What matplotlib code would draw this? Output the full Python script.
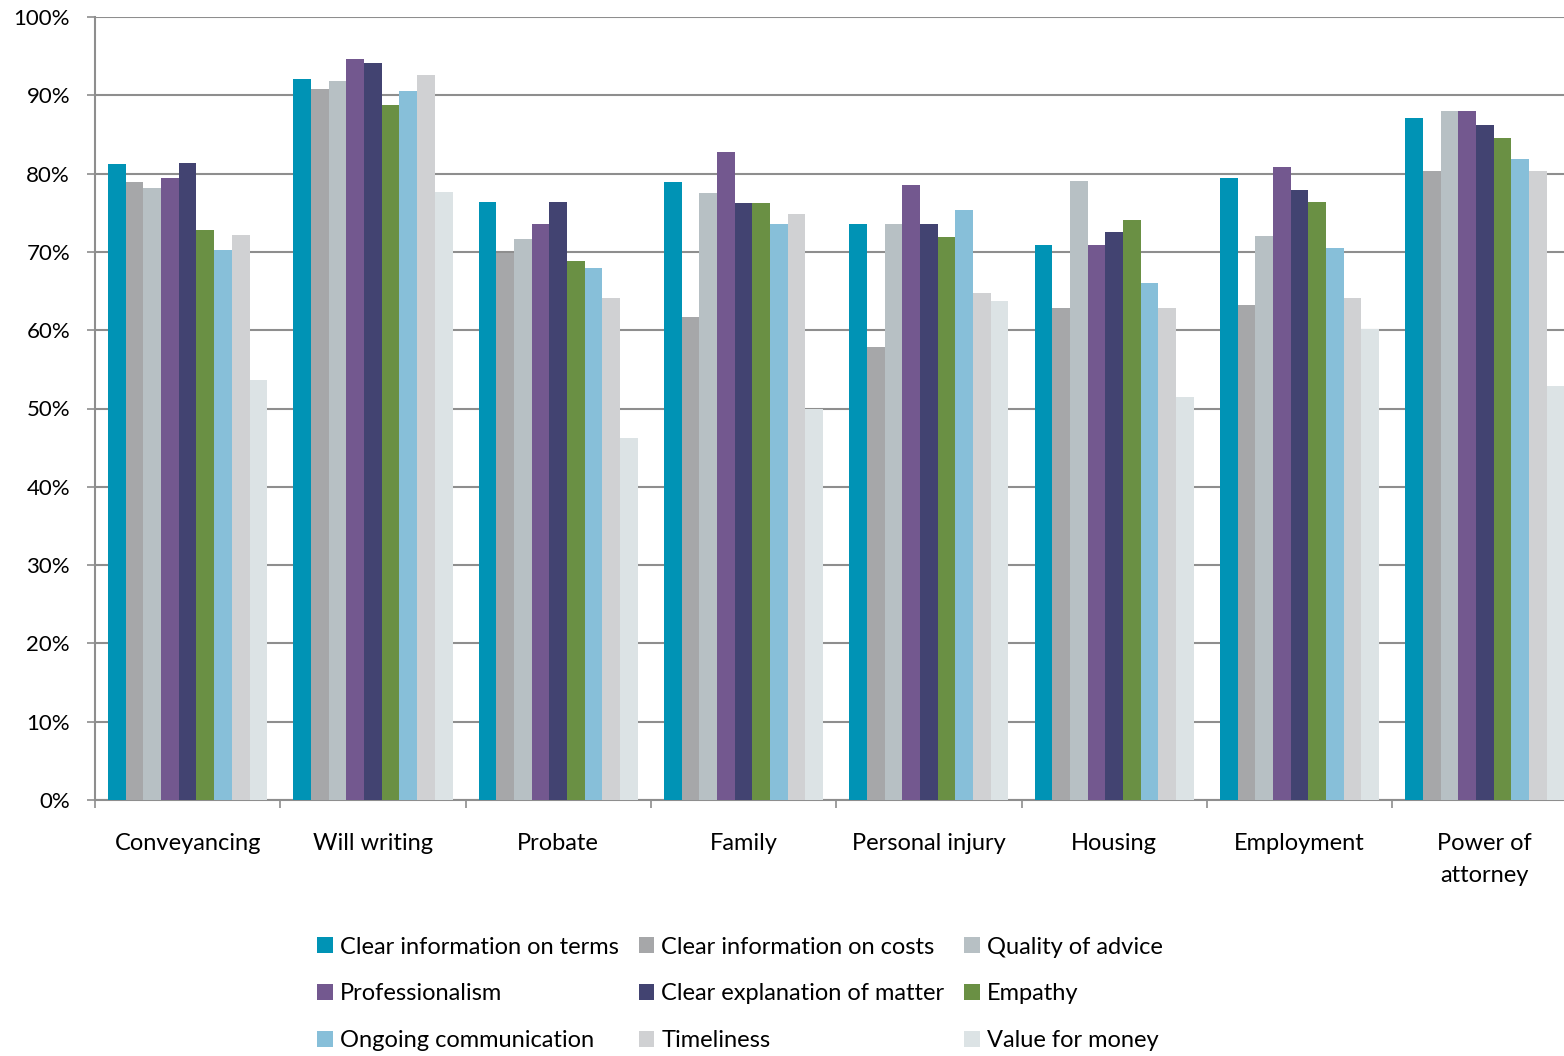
"""Client satisfaction by legal service area, grouped bar chart."""

import matplotlib

matplotlib.use("Agg")
import matplotlib.pyplot as plt
import numpy as np
from matplotlib.patches import Patch
from matplotlib.ticker import FixedLocator, PercentFormatter

plt.rcParams["font.family"] = ["Lato", "DejaVu Sans"]

categories = [
    "Conveyancing", "Will writing", "Probate", "Family",
    "Personal injury", "Housing", "Employment", "Power of\nattorney",
]

series_names = [
    "Clear information on terms", "Clear information on costs", "Quality of advice",
    "Professionalism", "Clear explanation of matter", "Empathy",
    "Ongoing communication", "Timeliness", "Value for money",
]

series_colors = [
    "#0093B5", "#A6A7A9", "#B7C0C4", "#73588F", "#424371",
    "#6A9044", "#87BFD9", "#D0D1D3", "#DCE3E5",
]

# percent of respondents, one list per attribute, ordered as categories
clear_terms = [81.2, 92.1, 76.4, 78.9, 73.6, 70.9, 79.4, 87.1]
clear_costs = [78.9, 90.8, 69.8, 61.7, 57.8, 62.8, 63.2, 80.3]
quality_advice = [78.1, 91.8, 71.6, 77.5, 73.6, 79.0, 72.0, 88.0]
professionalism = [79.4, 94.6, 73.5, 82.8, 78.5, 70.9, 80.8, 88.0]
clear_explanation = [81.4, 94.1, 76.4, 76.2, 73.6, 72.5, 77.9, 86.2]
empathy = [72.8, 88.8, 68.8, 76.2, 71.9, 74.1, 76.4, 84.5]
ongoing_comm = [70.2, 90.6, 67.9, 73.6, 75.4, 66.0, 70.5, 81.9]
timeliness = [72.1, 92.6, 64.1, 74.9, 64.8, 62.8, 64.1, 80.3]
value_for_money = [53.6, 77.7, 46.2, 49.9, 63.7, 51.5, 60.2, 52.9]

series_values = [
    clear_terms, clear_costs, quality_advice, professionalism, clear_explanation,
    empathy, ongoing_comm, timeliness, value_for_money,
]

W, H = 1564, 1056
fig = plt.figure(figsize=(W / 100, H / 100), dpi=100)
# plot area runs a little past the right edge of the canvas
ax = fig.add_axes([95 / W, 1 - 800 / H, 8 * 185.3 / W, 783 / H])

grid_color = "#8E8E8E"
bar_w = 0.0955
centers = np.arange(len(categories)) + 0.5
for i, (vals, color) in enumerate(zip(series_values, series_colors)):
    offset = (i - 4) * bar_w
    ax.bar(centers + offset, vals, width=bar_w, color=color, linewidth=0, zorder=3)

ax.set_xlim(0, len(categories))
ax.set_ylim(0, 100)
ax.set_yticks(np.arange(0, 101, 10))
ax.yaxis.set_major_formatter(PercentFormatter(decimals=0))
ax.yaxis.grid(True, color=grid_color, linewidth=1.5, zorder=1)
ax.tick_params(axis="y", length=6, width=1.2, color=grid_color, pad=12, labelsize=16)

ax.set_xticks(centers)
ax.set_xticklabels(categories, linespacing=1.65)
ax.xaxis.set_minor_locator(FixedLocator(np.arange(0, len(categories))))
ax.tick_params(axis="x", which="major", length=0, pad=24, labelsize=17)
ax.tick_params(axis="x", which="minor", length=6, width=1.2, color=grid_color)

for side in ("top", "right"):
    ax.spines[side].set_visible(False)
for side in ("left", "bottom"):
    ax.spines[side].set_color(grid_color)
    ax.spines[side].set_linewidth(1.5)

# legend fills row by row: reorder so ncol=3 reads across
handles = [Patch(facecolor=c, edgecolor="none") for c in series_colors]
order = [0, 3, 6, 1, 4, 7, 2, 5, 8]
fig.legend(
    [handles[k] for k in order], [series_names[k] for k in order],
    ncol=3, loc="center", bbox_to_anchor=(740 / W, 1 - 994 / H),
    frameon=False, fontsize=17, handlelength=0.65, handleheight=0.65,
    handletextpad=0.3, columnspacing=0.85, labelspacing=1.1,
)

fig.savefig("out.png", dpi=100)
